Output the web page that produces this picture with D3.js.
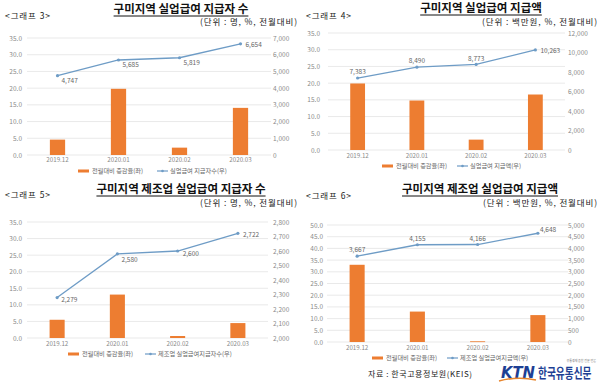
<!DOCTYPE html>
<html><head><meta charset="utf-8">
<script src="https://cdn.jsdelivr.net/npm/d3@7"></script>
<style>
html,body{margin:0;padding:0;background:#fff;}
svg{display:block;font-family:"Noto Sans CJK KR","Noto Sans",sans-serif;}
</style></head>
<body><svg id="c" width="600" height="384"></svg>
<script>
// ---- data ----
const categories = ["2019.12", "2020.01", "2020.02", "2020.03"];

const rate3 = [4.6, 19.8, 2.2, 14.1];
const count3 = [4747, 5685, 5819, 6654];
const rate4 = [19.9, 14.8, 3.1, 16.6];
const amount4 = [7383, 8490, 8773, 10263];
const rate5 = [5.5, 13.1, 0.6, 4.5];
const count5 = [2279, 2580, 2600, 2722];
const rate6 = [33.0, 13.0, 0.3, 11.5];
const amount6 = [3667, 4155, 4166, 4648];

const leftTicks35 = [0, 5, 10, 15, 20, 25, 30, 35];
const leftTicks50 = [0, 5, 10, 15, 20, 25, 30, 35, 40, 45, 50];
const rightTicks3 = [0, 1000, 2000, 3000, 4000, 5000, 6000, 7000];
const rightTicks4 = [0, 2000, 4000, 6000, 8000, 10000, 12000];
const rightTicks5 = [2000, 2100, 2200, 2300, 2400, 2500, 2600, 2700, 2800];
const rightTicks6 = [0, 500, 1000, 1500, 2000, 2500, 3000, 3500, 4000, 4500, 5000];

const titles = ["구미지역 실업급여 지급자 수", "구미지역 실업급여 지급액", "구미지역 제조업 실업급여 지급자 수", "구미지역 제조업 실업급여 지급액"];
const tags = ["<그래프 3>", "<그래프 4>", "<그래프 5>", "<그래프 6>"];
const units = ["(단위 : 명, %, 전월대비)", "(단위 : 백만원, %, 전월대비)", "(단위 : 명, %, 전월대비)", "(단위 : 백만원, %, 전월대비)"];
const barLegend = "전월대비 증감율(좌)";
const lineLegends = ["실업급여 지급자수(우)", "실업급여 지급액(우)", "제조업 실업급여지급자수(우)", "제조업 실업급여지급액(우)"];
const source = "자료 : 한국고용정보원(KEIS)";

// ---- layout / style ----
const ORANGE = "#ED7D31", BLUE = "#6E9CC6", GRID = "#e3e3e3", TICK = "#8a8a8a";
const svg = d3.select("#c");

const panels = [
  {bars: rate3, line: count3, lt: leftTicks35, rt: rightTicks3, ld: [0, 35], rd: [0, 7000],
   x: [27, 271], y: [155, 38], lx: 22, rx: 273, catY: 160, legY: 171,
   titleX: 181, titleY: 13, tagX: 5, tagY: 19, unitX: 297, unitY: 25, unitW: 97,
   leg: [78, 157],
   lab: [[4, 5, "start"], [4, 5, "start"], [4, 5, "start"], [5, 1, "start"]]},
  {bars: rate4, line: amount4, lt: leftTicks35, rt: rightTicks4, ld: [0, 35], rd: [0, 12000],
   x: [328, 565], y: [150, 33], lx: 320, rx: 568, catY: 155.5, legY: 166,
   titleX: 481, titleY: 12, tagX: 306, tagY: 19, unitX: 597, unitY: 25, unitW: 115,
   leg: [382, 457],
   lab: [[0, -6, "middle"], [0, -6, "middle"], [0, -6, "middle"], [5, 1, "start"]]},
  {bars: rate5, line: count5, lt: leftTicks35, rt: rightTicks5, ld: [0, 35], rd: [2000, 2800],
   x: [27, 268], y: [338, 222], lx: 22, rx: 273, catY: 343.5, legY: 354,
   titleX: 181, titleY: 193, tagX: 5, tagY: 198, unitX: 297, unitY: 206, unitW: 97,
   leg: [68, 145],
   lab: [[4, 2, "start"], [4, 6, "start"], [5, 3, "start"], [5, 1, "start"]]},
  {bars: rate6, line: amount6, lt: leftTicks50, rt: rightTicks6, ld: [0, 50], rd: [0, 5000],
   x: [327, 568], y: [342, 225], lx: 323, rx: 568, catY: 347.5, legY: 358,
   titleX: 480, titleY: 193, tagX: 306, tagY: 199, unitX: 597, unitY: 206, unitW: 114,
   leg: [372, 447],
   lab: [[0, -6, "middle"], [0, -6, "middle"], [0, -6, "middle"], [2, -4, "start"]]}
];

panels.forEach((p, i) => {
  const g = svg.append("g");
  const x = d3.scaleBand().domain(categories).range(p.x).paddingInner(0.75).paddingOuter(0.375);
  const yL = d3.scaleLinear().domain(p.ld).range(p.y);
  const yR = d3.scaleLinear().domain(p.rd).range(p.y);

  // header
  const t = g.append("text").attr("x", p.titleX).attr("y", p.titleY).attr("text-anchor", "middle")
    .attr("font-size", 11.5).attr("font-weight", 700).attr("fill", "#111").text(titles[i]);
  const tw = t.node().getComputedTextLength();
  g.append("line").attr("x1", p.titleX - tw / 2).attr("x2", p.titleX + tw / 2)
    .attr("y1", p.titleY + 3).attr("y2", p.titleY + 3).attr("stroke", "#111").attr("stroke-width", 1);
  g.append("text").attr("x", p.tagX).attr("y", p.tagY).attr("font-size", 8.5)
    .attr("textLength", 45).attr("lengthAdjust", "spacing")
    .attr("fill", "#222").text(tags[i]);
  g.append("text").attr("x", p.unitX - p.unitW).attr("y", p.unitY)
    .attr("font-size", 8.5).attr("textLength", p.unitW).attr("lengthAdjust", "spacing")
    .attr("fill", "#222").text(units[i]);

  // grid
  g.selectAll(".grid").data(p.lt).join("line")
    .attr("x1", p.x[0]).attr("x2", p.x[1]).attr("y1", d => yL(d)).attr("y2", d => yL(d))
    .attr("stroke", GRID).attr("stroke-width", 0.8);

  // axes
  const aL = g.append("g").attr("transform", `translate(${p.lx},0)`)
    .call(d3.axisLeft(yL).tickValues(p.lt).tickFormat(d3.format(".1f")).tickSize(0).tickPadding(0));
  const aR = g.append("g").attr("transform", `translate(${p.rx},0)`)
    .call(d3.axisRight(yR).tickValues(p.rt).tickFormat(d3.format(",")).tickSize(0).tickPadding(0));
  const aX = g.append("g").attr("transform", `translate(0,${p.catY})`)
    .call(d3.axisBottom(x).tickSize(0).tickPadding(0));
  [aL, aR, aX].forEach(a => {
    a.select(".domain").remove();
    a.selectAll("text").attr("font-size", 6.5).attr("fill", TICK).attr("font-family", "'Noto Sans CJK KR',sans-serif");
  });
  aX.selectAll("text").attr("dy", "0.35em").attr("font-size", 6.2);

  // bars
  g.selectAll(".bar").data(p.bars).join("rect")
    .attr("x", (d, j) => x(categories[j]))
    .attr("width", x.bandwidth())
    .attr("y", d => yL(d))
    .attr("height", d => Math.max(0.8, yL(0) - yL(d)))
    .attr("fill", ORANGE);

  // line
  const cx = j => x(categories[j]) + x.bandwidth() / 2;
  g.append("path").datum(p.line)
    .attr("d", d3.line().x((d, j) => cx(j)).y(d => yR(d)))
    .attr("fill", "none").attr("stroke", BLUE).attr("stroke-width", 1.3);
  g.selectAll(".pt").data(p.line).join("circle")
    .attr("cx", (d, j) => cx(j)).attr("cy", d => yR(d)).attr("r", 1.6).attr("fill", BLUE);
  g.selectAll(".lbl").data(p.line).join("text")
    .attr("x", (d, j) => cx(j) + p.lab[j][0]).attr("y", (d, j) => yR(d) + p.lab[j][1])
    .attr("text-anchor", (d, j) => p.lab[j][2]).attr("dy", "0.35em")
    .attr("font-size", 6.5).attr("fill", "#666").text(d => d3.format(",")(d));

  // legend
  g.append("rect").attr("x", p.leg[0]).attr("y", p.legY - 1.5).attr("width", 11).attr("height", 3).attr("fill", ORANGE);
  g.append("text").attr("x", p.leg[0] + 14).attr("y", p.legY).attr("dy", "0.35em")
    .attr("font-size", 6.2).attr("fill", "#666").text(barLegend);
  g.append("line").attr("x1", p.leg[1]).attr("x2", p.leg[1] + 11).attr("y1", p.legY).attr("y2", p.legY)
    .attr("stroke", BLUE).attr("stroke-width", 1.2);
  g.append("circle").attr("cx", p.leg[1] + 5.5).attr("cy", p.legY).attr("r", 1.3).attr("fill", BLUE);
  g.append("text").attr("x", p.leg[1] + 13).attr("y", p.legY).attr("dy", "0.35em")
    .attr("font-size", 6.2).attr("fill", "#666").text(lineLegends[i]);
});

// footer
svg.append("text").attr("x", 368).attr("y", 377).attr("font-size", 8)
  .attr("textLength", 104).attr("lengthAdjust", "spacing").attr("fill", "#222").text(source);
svg.append("text").attr("x", 501).attr("y", 378).attr("font-size", 15).attr("font-weight", 900)
  .attr("font-style", "italic").attr("fill", "#1d3f94").attr("font-family", "'DejaVu Sans',sans-serif")
  .attr("textLength", 34).attr("lengthAdjust", "spacingAndGlyphs").text("KTN");
svg.append("path").attr("d", "M499,381 Q518,376 536,380").attr("fill", "none").attr("stroke", "#e8862e").attr("stroke-width", 1.5);
svg.append("text").attr("transform", "translate(538,378) scale(1,1.35)").attr("font-size", 9.7).attr("font-weight", 700)
  .attr("fill", "#1d3f94").text("한국유통신문");
svg.append("text").attr("x", 596).attr("y", 362).attr("text-anchor", "end").attr("font-size", 3).attr("fill", "#777")
  .text("유통경제 종합 전문 언론");
</script></body></html>
